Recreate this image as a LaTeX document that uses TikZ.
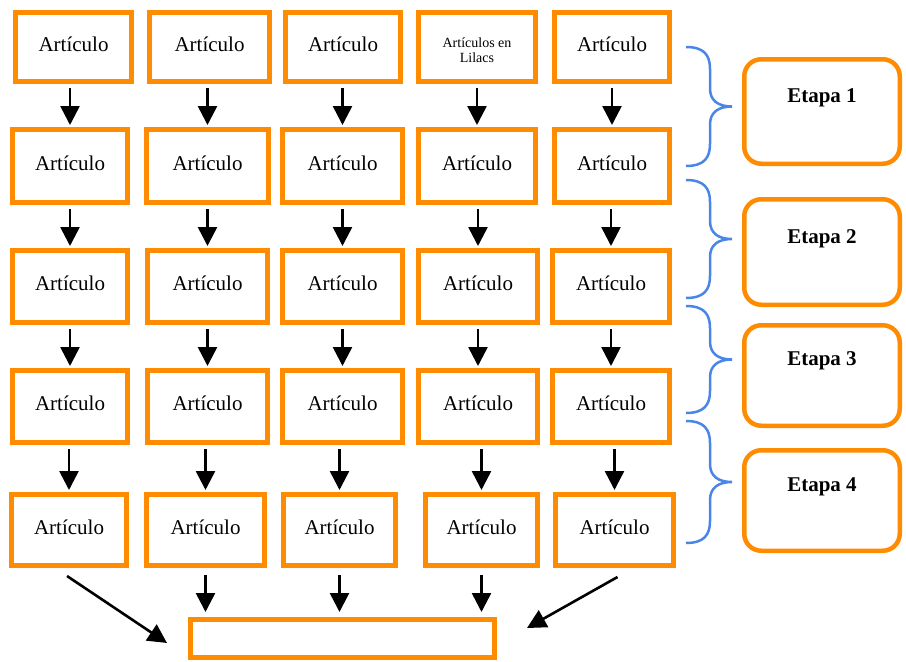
\documentclass[tikz,border=0pt]{standalone}
\usepackage{fontspec}
\setmainfont{Liberation Serif}
\usetikzlibrary{arrows.meta}
\definecolor{orng}{RGB}{255,140,0}
\definecolor{brc}{RGB}{74,134,232}
\newcommand{\abox}[6]{\node[artbox, minimum width={#3-#2-5}, minimum height={#5-#4-5}] (#1) at ({(#2+#3)/2},{(#4+#5)/2}) {#6};}
\newcommand{\ebox}[3]{\node[etbox, minimum width={902-742-4.5}, minimum height={#3-#2-4.5}] (#1) at (822,{(#2+#3)/2}) {};}
\newcommand{\mybrace}[3]{% name, top, bottom
  \pgfmathsetmacro{\bm}{(#2+#3)/2}
  \draw[bracestyle] (686,#2) .. controls (704,#2) and (710,#2+8) .. (710,#2+22)
     -- (710,\bm-18) .. controls (710,\bm-6) and (718,\bm) .. (732,\bm)
     .. controls (718,\bm) and (710,\bm+6) .. (710,\bm+18)
     -- (710,#3-22) .. controls (710,#3-8) and (704,#3) .. (686,#3);
  \coordinate (#1) at (732,\bm);}
\begin{document}
\begin{tikzpicture}[x=1pt,y=-1pt,
  artbox/.style={draw=orng, line width=5pt, fill=white, inner sep=0pt,
    font=\fontsize{21}{24}\selectfont, text depth=6pt},
  etbox/.style={draw=orng, line width=4.5pt, fill=white, rounded corners=17pt, inner sep=0pt},
  etlabel/.style={font=\fontsize{21}{24}\selectfont\bfseries, inner sep=0pt},
  arr/.style={line width=2.6pt, -{Triangle[length=19pt,width=19pt]}},
  bracestyle/.style={draw=brc, line width=2.5pt}]
\useasboundingbox (0,0) rectangle (906,662);
% row 1
\abox{r11}{13}{134}{10}{84}{Artículo}
\abox{r12}{147}{272}{10}{84}{Artículo}
\abox{r13}{283}{403}{10}{84}{Artículo}
\node[artbox, text depth=0pt, minimum width={538-416-5}, minimum height={84-10-5}] (r14) at ({(416+538)/2},47) {\parbox{100pt}{\centering\fontsize{14}{15}\selectfont Artículos en\\ Lilacs}};
\abox{r15}{552}{672}{10}{84}{Artículo}
% row 2
\abox{r21}{10}{130}{127}{205}{Artículo}
\abox{r22}{144}{271}{127}{205}{Artículo}
\abox{r23}{280}{405}{127}{205}{Artículo}
\abox{r24}{416}{538}{127}{205}{Artículo}
\abox{r25}{552}{672}{127}{205}{Artículo}
% row 3
\abox{r31}{10}{130}{248}{325}{Artículo}
\abox{r32}{145}{270}{248}{325}{Artículo}
\abox{r33}{280}{405}{248}{325}{Artículo}
\abox{r34}{416}{540}{248}{325}{Artículo}
\abox{r35}{550}{672}{248}{325}{Artículo}
% row 4
\abox{r41}{10}{130}{368}{445}{Artículo}
\abox{r42}{145}{270}{368}{445}{Artículo}
\abox{r43}{280}{405}{368}{445}{Artículo}
\abox{r44}{416}{540}{368}{445}{Artículo}
\abox{r45}{550}{672}{368}{445}{Artículo}
% row 5
\abox{r51}{9}{129}{492}{568}{Artículo}
\abox{r52}{144}{267}{492}{568}{Artículo}
\abox{r53}{281}{398}{492}{568}{Artículo}
\abox{r54}{423}{540}{492}{568}{Artículo}
\abox{r55}{553}{676}{492}{568}{Artículo}
% bottom box
\abox{bot}{188}{497}{617}{660}{}
% vertical arrows
\foreach \a/\b in {1/2,2/3,3/4,4/5}{
  \foreach \c in {1,...,5}{
    \draw[arr, shorten <=4pt, shorten >=2pt] (r\b\c.north |- r\a\c.south) -- (r\b\c.north);
  }
}
% arrows to bottom box
\foreach \c in {2,3,4}{
  \draw[arr, shorten <=7pt, shorten >=5pt] (r5\c.south) -- (r5\c.south |- bot.north);
}
\draw[arr] ([shift={(-2,8)}]r51.south) -- ([shift={(-21,4.5)}]bot.west);
\draw[arr] ([shift={(3,9)}]r55.south) -- ([shift={(30,-10.5)}]bot.east);
% etapa boxes
\ebox{e1}{57}{166}
\ebox{e2}{197}{307}
\ebox{e3}{323}{428}
\ebox{e4}{448}{553}
\node[etlabel] (t1) at ([shift={(0,-13.5)}]e1.center) {Etapa 1};
\node[etlabel] (t2) at ([shift={(0,-13)}]e2.center) {Etapa 2};
\node[etlabel] (t3) at ([shift={(0,-15)}]e3.center) {Etapa 3};
\node[etlabel] (t4) at ([shift={(0,-13.5)}]e4.center) {Etapa 4};
% braces
\mybrace{b1}{47}{166}
\mybrace{b2}{180}{298}
\mybrace{b3}{306}{413}
\mybrace{b4}{421}{543}
\end{tikzpicture}
\end{document}
